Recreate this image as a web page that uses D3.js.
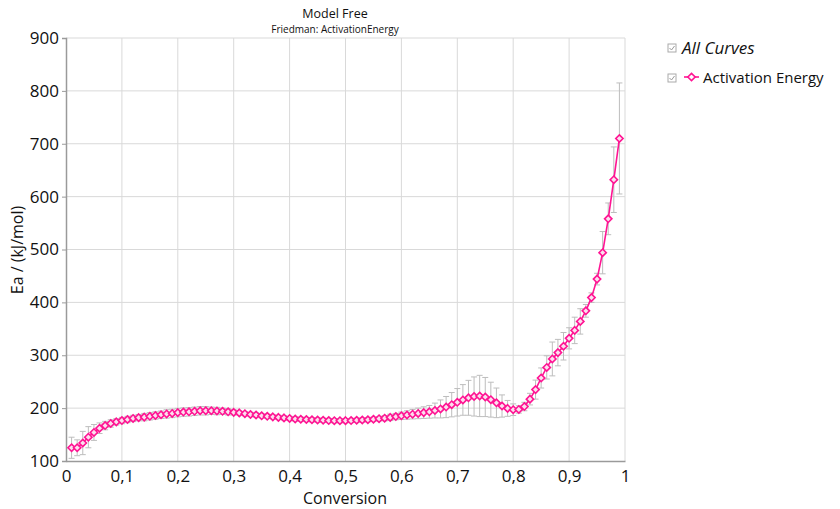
<!DOCTYPE html>
<html>
<head>
<meta charset="utf-8">
<script src="https://cdn.jsdelivr.net/npm/d3@7"></script>
<style>
  body { margin: 0; background: #fff; }
  text { font-family: "Open Sans", "Noto Sans", sans-serif; }
</style>
</head>
<body>
<div id="chart"></div>
<script>
// conversion values 0.01 .. 0.99
const conversion = [
  0.01,0.02,0.03,0.04,0.05,0.06,0.07,0.08,0.09,0.10,
  0.11,0.12,0.13,0.14,0.15,0.16,0.17,0.18,0.19,0.20,
  0.21,0.22,0.23,0.24,0.25,0.26,0.27,0.28,0.29,0.30,
  0.31,0.32,0.33,0.34,0.35,0.36,0.37,0.38,0.39,0.40,
  0.41,0.42,0.43,0.44,0.45,0.46,0.47,0.48,0.49,0.50,
  0.51,0.52,0.53,0.54,0.55,0.56,0.57,0.58,0.59,0.60,
  0.61,0.62,0.63,0.64,0.65,0.66,0.67,0.68,0.69,0.70,
  0.71,0.72,0.73,0.74,0.75,0.76,0.77,0.78,0.79,0.80,
  0.81,0.82,0.83,0.84,0.85,0.86,0.87,0.88,0.89,0.90,
  0.91,0.92,0.93,0.94,0.95,0.96,0.97,0.98,0.99
];
// activation energy, kJ/mol
const energy = [
  125,125,134,145,154,162,167,171,174,176.5,
  178.5,180.5,182,183,184.5,186,187.5,189,190,191.5,
  192.5,193,194,195,195,195,194.5,194,193,192,
  191,189.5,188,187,185.5,184.5,183.5,182.5,181.5,180.5,
  179.5,179,178.5,178,177.5,177,176.5,176.2,176.2,176.3,
  176.5,177,177.5,178,179,180,181,182.5,184,185.5,
  187,188.5,190,191.5,193,195.5,198.5,202,206.5,211,
  215.5,219.5,222,223,221,216,210,204,199.5,197,
  197.5,203,217,235,257,277,293,305,317,332,
  347,364,384,409,444,494,558,632,710
];
// error bar half-widths
const errors = [
  20,15,22,20,15,10,8,7,6,6,
  6,6,6,7,7,7,7,8,8,8,
  8,8,8,8,8,7,7,6,6,5,
  4,4,4,4,4,4,4,4,4,4,
  4,4,4,4,4,4,4,4,4,4,
  4,4,4,4,4,4,5,6,6,7,
  8,9,10,11,12,14,17,20,23,26,
  29,33,37,39,37,33,28,21,15,11,
  7,8,11,18,19,22,32,25,26,20,
  25,24,12,9,11,40,30,62,105
];
const xTicks = [0,0.1,0.2,0.3,0.4,0.5,0.6,0.7,0.8,0.9,1];
const yTicks = [100,200,300,400,500,600,700,800,900];

const width = 840;
const height = 509;
const margin = {left: 66, right: 215, top: 38, bottom: 48};

const svg = d3.select("#chart")
  .append("svg")
  .attr("width", width)
  .attr("height", height);

const x = d3.scaleLinear().domain([0, 1]).range([margin.left, width - margin.right]);
const y = d3.scaleLinear().domain([100, 900]).range([height - margin.bottom, margin.top]);

const data = conversion.map((c, i) => ({c: c, e: energy[i], err: errors[i]}));

// grid
svg.append("g")
  .selectAll("line.vg")
  .data(xTicks.slice(1))
  .join("line")
  .attr("x1", d => x(d)).attr("x2", d => x(d))
  .attr("y1", y(100)).attr("y2", y(900))
  .style("stroke", "#d9d9d9");
svg.append("g")
  .selectAll("line.hg")
  .data(yTicks.slice(1))
  .join("line")
  .attr("x1", x(0)).attr("x2", x(1))
  .attr("y1", d => y(d)).attr("y2", d => y(d))
  .style("stroke", "#d9d9d9");

// axes
const fmt = d => d3.format("")(d).replace(".", ",");
const xAxis = svg.append("g")
  .attr("transform", `translate(0,${y(100)})`)
  .call(d3.axisBottom(x).tickValues(xTicks).tickFormat(fmt).tickSize(0).tickPadding(9));
const yAxis = svg.append("g")
  .attr("transform", `translate(${x(0)},0)`)
  .call(d3.axisLeft(y).tickValues(yTicks).tickSize(4).tickPadding(3));
[xAxis, yAxis].forEach(a => {
  a.select(".domain").style("stroke", "#9a9a9a").style("stroke-width", 1.5);
  a.selectAll(".tick line").style("stroke", "#9a9a9a");
  a.selectAll("text").style("font-size", "17px").style("fill", "#111")
    .style("font-family", "'Open Sans', sans-serif");
});

// error bars
const eb = svg.append("g").style("stroke", "#bdbdbd").style("stroke-width", 1);
data.forEach(d => {
  const cx = x(d.c);
  eb.append("line").attr("x1", cx).attr("x2", cx).attr("y1", y(d.e - d.err)).attr("y2", y(d.e + d.err));
  eb.append("line").attr("x1", cx - 3).attr("x2", cx + 3).attr("y1", y(d.e - d.err)).attr("y2", y(d.e - d.err));
  eb.append("line").attr("x1", cx - 3).attr("x2", cx + 3).attr("y1", y(d.e + d.err)).attr("y2", y(d.e + d.err));
});

const pink = "#ff1493";
// line
svg.append("path")
  .datum(data)
  .attr("d", d3.line().x(d => x(d.c)).y(d => y(d.e)))
  .style("fill", "none")
  .style("stroke", pink)
  .style("stroke-width", 1.6);

// markers
const diamond = d3.symbol().type(d3.symbolDiamond2).size(34);
svg.append("g")
  .selectAll("path")
  .data(data)
  .join("path")
  .attr("transform", d => `translate(${x(d.c)},${y(d.e)})`)
  .attr("d", diamond)
  .style("fill", "#fbe0ee")
  .style("stroke", pink)
  .style("stroke-width", 1.6);

// titles
svg.append("text").attr("x", 335).attr("y", 18).attr("text-anchor", "middle")
  .style("font-size", "12.5px").style("fill", "#111").text("Model Free");
svg.append("text").attr("x", 335).attr("y", 33).attr("text-anchor", "middle")
  .style("font-size", "10px").style("fill", "#111").text("Friedman: ActivationEnergy");
svg.append("text").attr("x", 345).attr("y", 504).attr("text-anchor", "middle")
  .style("font-size", "16px").style("fill", "#111").text("Conversion");
svg.append("text").attr("transform", "translate(23,250) rotate(-90)").attr("text-anchor", "middle")
  .style("font-size", "16px").style("fill", "#111").text("Ea / (kJ/mol)");

// legend
const checkbox = (cx, cy) => {
  svg.append("rect").attr("x", cx - 4).attr("y", cy - 4).attr("width", 8).attr("height", 8)
    .style("fill", "#fff").style("stroke", "#aaa");
  svg.append("path").attr("d", `M${cx - 2.5},${cy} L${cx - 0.5},${cy + 2} L${cx + 2.5},${cy - 2}`)
    .style("fill", "none").style("stroke", "#999").style("stroke-width", 1);
};
checkbox(672, 48);
svg.append("text").attr("x", 682).attr("y", 54)
  .style("font-size", "17px").style("font-style", "italic").style("fill", "#111").text("All Curves");
checkbox(672, 78);
svg.append("line").attr("x1", 684).attr("x2", 699).attr("y1", 77).attr("y2", 77)
  .style("stroke", pink).style("stroke-width", 1.6);
svg.append("path").attr("transform", "translate(691.5,77)").attr("d", diamond)
  .style("fill", "#fff").style("stroke", pink).style("stroke-width", 1.6);
svg.append("text").attr("x", 703).attr("y", 83)
  .style("font-size", "15px").style("fill", "#111").text("Activation Energy");
</script>
</body>
</html>
